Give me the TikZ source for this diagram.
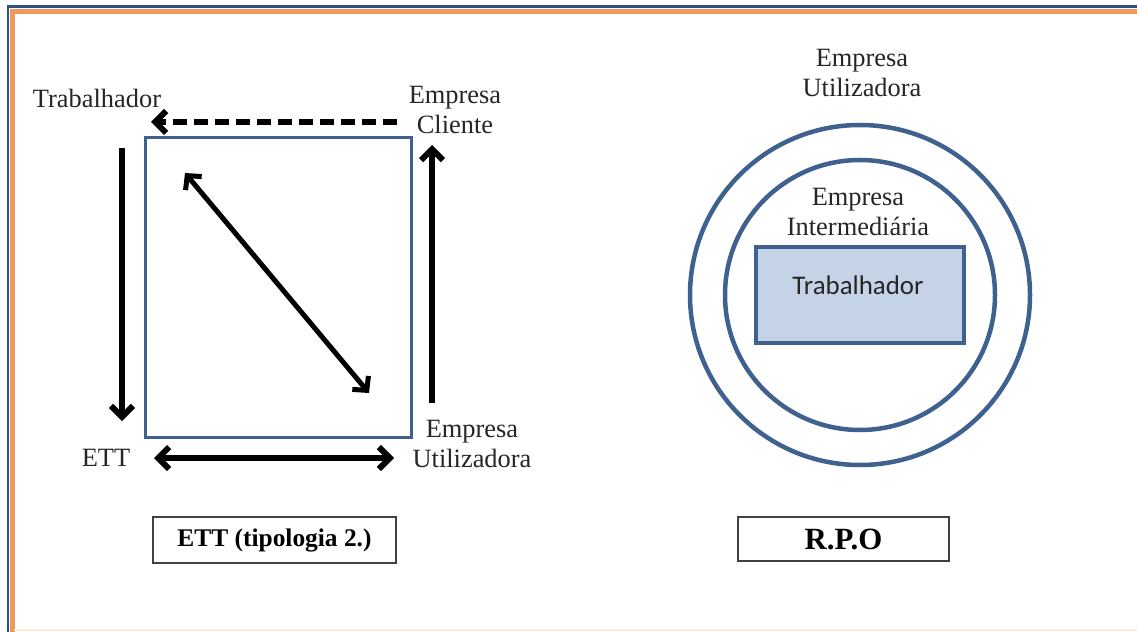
\documentclass[tikz,border=0pt]{standalone}
\usepackage{fontspec}
\setmainfont{Liberation Serif}
\newfontfamily\calib{Carlito}
\usetikzlibrary{arrows.meta}
\definecolor{frameblue}{HTML}{2E5087}
\definecolor{frameorange}{HTML}{EE995C}
\definecolor{boxblue}{HTML}{3F6190}
\definecolor{fillblue}{HTML}{C4D3E6}
\tikzset{
  lbl/.style={font=\fontsize{26.5}{31}\selectfont, align=center, inner sep=0pt, text=black!85},
  caption/.style={draw=black!75, line width=2.5bp, minimum width=243bp, minimum height=46bp, font=\bfseries\fontsize{25.5}{30}\selectfont, inner sep=0pt},
  barb/.tip={Straight Barb[length=11bp,width=22bp,line width=6bp]},
  bigarrow/.style={line width=6bp, -barb},
  dblarrow/.style={line width=6bp, barb-barb},
  ring/.style={draw=boxblue, line width=4.5bp},
}
\begin{document}
\begin{tikzpicture}[x=1bp,y=-1bp]
\useasboundingbox (0,0) rectangle (1137,632);
\fill[white] (0,0) rectangle (1137,632);
% frame
\draw[frameblue, line width=2.5bp] (8,632) -- (8,6.5) -- (1137,6.5);
\draw[frameorange, line width=5bp] (12.5,632) -- (12.5,11.5) -- (1137,11.5);
\draw[yellow!20!orange!15, line width=2bp] (14,630) -- (1137,630);

% ---------- left diagram ----------
\node[draw=boxblue, line width=3bp, minimum width=265bp, minimum height=299bp, inner sep=0pt] (sq) at (278.5,287.5) {};
\node[lbl] (trab) at (97,98) {Trabalhador};
\node[lbl] (cli) at (455,110) {Empresa\\Cliente};
\node[lbl] (ett) at (106,458) {ETT};
\node[lbl] (util) at (472,444) {Empresa\\Utilizadora};

\coordinate (dashS) at (397,122);
\coordinate (dashE) at (151,122);
\draw[line width=6bp, dash pattern=on 14bp off 7bp, -barb] (dashS) -- (dashE);

\coordinate (downS) at (122,148);
\coordinate (downE) at (122,421);
\draw[bigarrow] (downS) -- (downE);

\coordinate (upS) at (432,403);
\coordinate (upE) at (432,145);
\draw[bigarrow] (upS) -- (upE);

\coordinate (horA) at (154,458);
\coordinate (horB) at (394,458);
\draw[dblarrow] (horA) -- (horB);

\coordinate (diaA) at (185,173);
\coordinate (diaB) at (369,393);
\draw[line width=5bp, {Straight Barb[length=10bp,width=21bp,line width=5bp]}-{Straight Barb[length=10bp,width=21bp,line width=5bp]}] (diaA) -- (diaB);

\node[caption] (capL) at (274.5,540) {ETT (tipologia 2.)};

% ---------- right diagram ----------
\node[ring, circle, minimum size=340bp, inner sep=0pt] (outer) at (860,295) {};
\node[ring, circle, minimum size=270bp, inner sep=0pt] (inner) at (860,295) {};
\node[draw=boxblue, fill=fillblue, line width=4bp, minimum width=208bp, minimum height=96bp, inner sep=0pt] (wbox) at (860,295) {};
\node[font=\calib\fontsize{27}{32}\selectfont, inner sep=0pt, text=black!85] (wtext) at (858,285) {Trabalhador};
\node[lbl] (inter) at (858,212) {Empresa\\Intermediária};
\node[lbl] (eu) at (862,73) {Empresa\\Utilizadora};

\node[caption, minimum width=211bp, minimum height=44bp, font=\bfseries\fontsize{31}{36}\selectfont] (capR) at (843.5,539) {R.P.O};
\end{tikzpicture}
\end{document}
